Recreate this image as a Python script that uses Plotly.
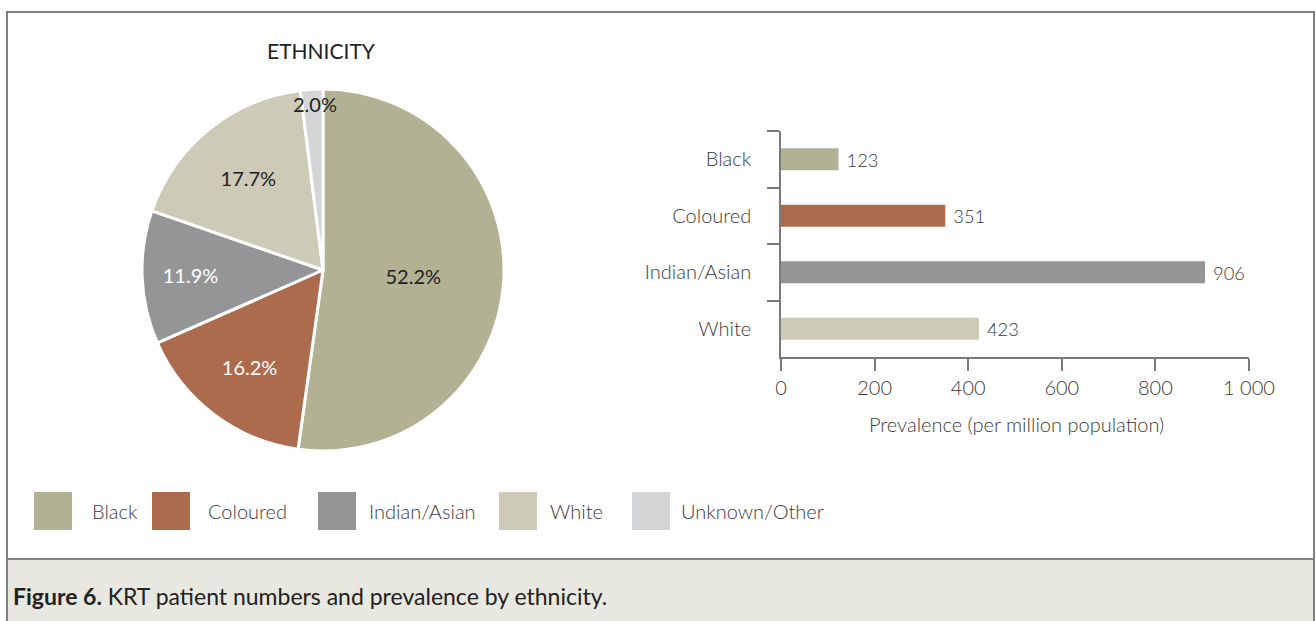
import plotly.graph_objects as go

# ---------------- data ----------------
pie_labels = ["Black", "Coloured", "Indian/Asian", "White", "Unknown/Other"]
pie_values = [52.2, 16.2, 11.9, 17.7, 2.0]
colors = ["#B2B193", "#AB6B4C", "#949597", "#CDCAB7", "#D4D5D7"]
pie_text_colors = ["#222222", "#FFFFFF", "#FFFFFF", "#222222", "#222222"]

bar_categories = ["Black", "Coloured", "Indian/Asian", "White"]
bar_values = [123, 351, 906, 423]
x_tickvals = [0, 200, 400, 600, 800, 1000]
x_ticktext = ["0", "200", "400", "600", "800", "1 000"]

W, H = 1316, 621
FONT = "Lato"
TXT = "#3A3A3A"


def px(x):
    return x / W


def py(y):
    return 1 - y / H


def f(size, color=TXT, weight=300, family=FONT):
    return dict(family=family, size=size, color=color, weight=weight)


fig = go.Figure()

# pie: label the tiny slice separately with an annotation
pie_text = [f"{v:.1f}%" for v in pie_values[:-1]] + [""]
fig.add_trace(go.Pie(
    labels=pie_labels,
    values=pie_values,
    sort=False,
    direction="clockwise",
    rotation=0,
    marker=dict(colors=colors, line=dict(color="white", width=3)),
    text=pie_text,
    textinfo="text",
    textposition="inside",
    insidetextorientation="horizontal",
    textfont=dict(family=FONT, size=20, color=pie_text_colors, weight=400),
    domain=dict(x=[px(142), px(504)], y=[py(451), py(89)]),
    showlegend=False,
    hoverinfo="label+value",
))

fig.add_trace(go.Bar(
    y=bar_categories,
    x=bar_values,
    orientation="h",
    marker=dict(color=colors[:4], line=dict(width=0)),
    width=0.39,
    text=[str(v) for v in bar_values],
    texttemplate=" %{text}",
    textposition="outside",
    textfont=f(20),
    cliponaxis=False,
    showlegend=False,
    xaxis="x", yaxis="y",
))

axis_common = dict(
    showgrid=False, zeroline=False, showline=True, automargin=False,
    linecolor="#7A7A7A", linewidth=1.5,
    ticks="outside", ticklen=12, tickwidth=1.5, tickcolor="#7A7A7A",
    tickfont=f(20),
)

shapes = [
    # caption background
    dict(type="rect", xref="paper", yref="paper", x0=px(7), x1=px(1314), y0=py(640), y1=py(559),
         fillcolor="#E8E7E0", line=dict(width=0), layer="below"),
    # outer frame
    dict(type="rect", xref="paper", yref="paper", x0=px(7), x1=px(1314), y0=py(640), y1=py(12),
         fillcolor="rgba(0,0,0,0)", line=dict(color="#808080", width=2)),
    # separator
    dict(type="line", xref="paper", yref="paper", x0=px(7), x1=px(1314), y0=py(559), y1=py(559),
         line=dict(color="#808080", width=2)),
]

annotations = [
    dict(text="ETHNICITY", x=px(321), y=py(50), xref="paper", yref="paper",
         showarrow=False, font=f(21, "#222222", 400),
         xanchor="center", yanchor="middle"),
    dict(text=f"{pie_values[-1]:.1f}%", x=px(315), y=py(104), xref="paper", yref="paper",
         showarrow=False, font=f(20, "#222222", 400),
         xanchor="center", yanchor="middle"),
    dict(text="<b>Figure 6.</b> KRT patient numbers and prevalence by ethnicity.",
         x=px(11), y=py(596), xref="paper", yref="paper", showarrow=False,
         font=f(23, "#222222", 400),
         xanchor="left", yanchor="middle"),
    dict(text="Prevalence (per million population)", x=px(1016), y=py(424),
         xref="paper", yref="paper", showarrow=False,
         font=f(20), xanchor="center", yanchor="middle"),
]

# custom legend
legend_swatch_x = [34, 152, 318, 499, 632]
legend_text_x = [90, 206, 367, 548, 679]
for lab, col, sx, tx in zip(pie_labels, colors, legend_swatch_x, legend_text_x):
    shapes.append(dict(type="rect", xref="paper", yref="paper",
                       x0=px(sx), x1=px(sx + 38), y0=py(530), y1=py(492),
                       fillcolor=col, line=dict(width=0)))
    annotations.append(dict(text=lab, x=px(tx), y=py(511), xref="paper", yref="paper",
                            showarrow=False, xanchor="left", yanchor="middle",
                            font=f(20)))

fig.update_layout(
    width=W, height=H,
    margin=dict(l=0, r=0, t=0, b=0, autoexpand=False),
    paper_bgcolor="white", plot_bgcolor="white",
    font=dict(family=FONT, color=TXT),
    xaxis=dict(domain=[px(781), px(1249)], range=[0, 1000],
               tickvals=x_tickvals, ticktext=x_ticktext, anchor="y", **axis_common),
    yaxis=dict(domain=[py(357), py(131)], categoryorder="array",
               categoryarray=bar_categories, autorange="reversed",
               tickson="boundaries", ticklabelstandoff=24, anchor="x", **axis_common),
    shapes=shapes,
    annotations=annotations,
)

fig.write_html(
    "out.html",
    config={"displayModeBar": False},
    post_script="document.body.style.margin='0';document.body.style.overflow='hidden';",
)
